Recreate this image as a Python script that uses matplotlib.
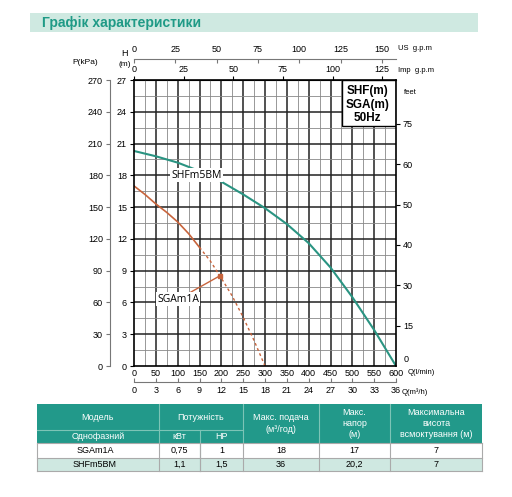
import numpy as np
import matplotlib
matplotlib.use('Agg')
import matplotlib.pyplot as plt
from matplotlib.patches import Rectangle

# curve data, Q in l/min, H in m
q_shf = [0, 50, 100, 150, 200, 250, 300, 350, 400, 450, 500, 550, 600]
h_shf = [20.3, 19.8, 19.2, 18.4, 17.4, 16.2, 14.9, 13.4, 11.6, 9.3, 6.5, 3.4, 0]
q_sga = [0, 25, 50, 75, 100, 125, 150, 175, 200, 225, 250, 275, 300]
h_sga = [17.0, 16.2, 15.3, 14.5, 13.6, 12.5, 11.2, 9.9, 8.3, 6.6, 4.6, 2.4, 0]
sga_solid_end = 150
sga_point = (196, 8.5)

# table data
col_heads = ['Модель', 'Потужність', 'Макс. подача\n(м³/год)', 'Макс.\nнапор\n(м)', 'Максимальна\nвисота\nвсмоктування (м)']
sub_heads = ['Однофазний', 'кВт', 'НР']
rows = [['SGAm1A', '0,75', '1', '18', '17', '7'],
        ['SHFm5BM', '1,1', '1,5', '36', '20,2', '7']]

feet_labels = ['15', '30', '40', '50', '60', '75']

teal = '#2a9482'
orange = '#c8643c'
head_col = '#22998a'
light = '#cfe8e1'

plt.rcParams['font.family'] = ['Liberation Sans', 'DejaVu Sans']
fig = plt.figure(figsize=(5.12, 4.97), dpi=100)

# overlay in pixel coords for title and table
ov = fig.add_axes([0, 0, 1, 1])
ov.set_xlim(0, 512)
ov.set_ylim(497, 0)
ov.axis('off')
ov.add_patch(Rectangle((30, 13), 448, 19, color='#cfe9e1', lw=0))
ov.text(42, 23, 'Графік характеристики', color='#1f9a86', fontsize=10, fontweight='bold', va='center')

ax = fig.add_axes([134/512, 1-366/497, 262/512, 286/497])
ax.set_xlim(0, 600)
ax.set_ylim(0, 27)
for x in np.arange(25, 600, 25):
    major = x % 50 == 0
    ax.axvline(x, color='#222' if major else '#888', lw=1.1 if major else 0.6, zorder=1)
for y in np.arange(1.5, 27, 1.5):
    major = abs(y % 3) < 1e-6
    ax.axhline(y, color='#222' if major else '#888', lw=1.1 if major else 0.6, zorder=1)

# SHF curve
ax.plot(q_shf, h_shf, color=teal, lw=1.5, zorder=3)
ax.text(143, 18.0, 'SHFm5BM', fontsize=7.5, ha='center', va='center', family=['Open Sans', 'DejaVu Sans'],
        bbox=dict(facecolor='white', edgecolor='none', pad=1.0), zorder=4)

# SGA curve, solid then dashed
qs = np.array(q_sga)
hs = np.array(h_sga)
m = qs <= sga_solid_end
ax.plot(qs[m], hs[m], color=orange, lw=1.2, zorder=3)
ax.plot(qs[qs >= sga_solid_end], hs[qs >= sga_solid_end], color=orange, lw=1.0, ls=(0, (2, 2)), zorder=3)
ax.plot(*sga_point, 's', color=orange, ms=3.5, zorder=5)
ax.annotate('SGAm1A', xy=sga_point, xytext=(101, 6.3), fontsize=7.5, ha='center', va='center',
            family=['Open Sans', 'DejaVu Sans'],
            bbox=dict(facecolor='white', edgecolor='none', pad=1.0),
            arrowprops=dict(arrowstyle='-', color=orange, lw=1.0, shrinkA=0, shrinkB=0), zorder=4)

# legend box
ax.add_patch(Rectangle((476, 22.7), 124, 4.3, facecolor='white', edgecolor='black', lw=1.0, zorder=6))
for txt, yy in zip(['SHF(m)', 'SGA(m)', '50Hz'], [26.0, 24.6, 23.4]):
    ax.text(535, yy, txt, fontsize=8.5, fontweight='bold', ha='center', va='center', zorder=7)

for s in ax.spines.values():
    s.set_linewidth(1.2)
    s.set_zorder(8)
ax.set_yticks(np.arange(0, 28, 3))
ax.set_xticks(np.arange(0, 601, 50))
ax.tick_params(axis='y', labelsize=6.5, length=3, direction='out', pad=2)
ax.tick_params(axis='x', labelsize=6.5, length=0, pad=2)

# pressure axis
pk = ax.secondary_yaxis(-0.092, functions=(lambda h: h * 10, lambda p: p / 10))
pk.set_yticks(np.arange(0, 271, 30))
pk.tick_params(labelsize=6.5, length=3, color='#777', pad=2)
pk.spines['left'].set_color('#777')

# feet axis
ft = ax.secondary_yaxis('right')
ft.set_yticks(np.arange(1, 7) * 22.86 / 6)
ft.set_yticklabels(feet_labels)
ft.tick_params(labelsize=6.5, length=3, pad=2)
ft.spines['right'].set_visible(False)

# top flow axes
imp = ax.secondary_xaxis('top', functions=(lambda q: q / 4.546, lambda g: g * 4.546))
imp.set_xticks(np.arange(0, 126, 25))
imp.tick_params(labelsize=6.5, length=3, pad=1)
us = ax.secondary_xaxis(1.072, functions=(lambda q: q / 3.785, lambda g: g * 3.785))
us.set_xticks(np.arange(0, 151, 25))
us.tick_params(labelsize=6.5, length=3, direction='in', pad=4, color='#777')
us.spines['top'].set_color('#777')

# bottom m3/h axis
m3 = ax.secondary_xaxis(-0.056, functions=(lambda q: q * 0.06, lambda v: v / 0.06))
m3.set_xticks(np.arange(0, 37, 3))
m3.tick_params(labelsize=6.5, length=3, direction='in', pad=3, color='#777')
m3.spines['bottom'].set_color('#777')

# axis names
ov.text(85, 63, 'P(kPa)', fontsize=6, ha='center', va='center')
ov.text(125, 53, 'H', fontsize=6.5, ha='center', va='center')
ov.text(125, 64, '(m)', fontsize=6, ha='center', va='center')
ov.text(398, 48, 'US  g.p.m', fontsize=5.5, va='center')
ov.text(398, 71, 'Imp  g.p.m', fontsize=5.5, va='center')
ov.text(404, 92, 'feet', fontsize=5.5, va='center')
ov.text(404, 360, '0', fontsize=6.5, va='center')
ov.text(408, 373, 'Q(l/min)', fontsize=5.5, va='center')
ov.text(402, 392, 'Q(m³/h)', fontsize=5.5, va='center')

# table
xs = [37, 159, 200, 243, 319, 390, 482]
top, mid, hb, r1, r2 = 404, 430, 443, 458, 471
ov.add_patch(Rectangle((xs[0], top), xs[-1]-xs[0], hb-top, color=head_col, lw=0))
ov.add_patch(Rectangle((xs[0], r1), xs[-1]-xs[0], r2-r1, color=light, lw=0))
lc = '#7cc4b6'
ov.plot([xs[0], xs[3]], [mid, mid], color=lc, lw=0.8)
for x in xs[1:-1]:
    if x == xs[2]:
        ov.plot([x, x], [mid, r2], color=lc, lw=0.8)
    else:
        ov.plot([x, x], [top, hb], color=lc, lw=0.8)
for x in xs:
    ov.plot([x, x], [hb, r2], color='#aaa', lw=0.8)
for y in [hb, r1, r2]:
    ov.plot([xs[0], xs[-1]], [y, y], color='#aaa', lw=0.8)
hx = [(xs[0]+xs[1])/2, (xs[1]+xs[3])/2, (xs[3]+xs[4])/2, (xs[4]+xs[5])/2, (xs[5]+xs[6])/2]
hy = [(top+mid)/2, (top+mid)/2, (top+hb)/2, (top+hb)/2, (top+hb)/2]
for t, x, y in zip(col_heads, hx, hy):
    ov.text(x, y, t, color='white', fontsize=6.5, ha='center', va='center', linespacing=1.3)
sx = [(xs[0]+xs[1])/2, (xs[1]+xs[2])/2, (xs[2]+xs[3])/2]
for t, x in zip(sub_heads, sx):
    ov.text(x, (mid+hb)/2, t, color='white', fontsize=6.5, ha='center', va='center')
cx = [95] + [(xs[i]+xs[i+1])/2 for i in range(1, 6)]
for row, y in zip(rows, [(hb+r1)/2, (r1+r2)/2]):
    for t, x in zip(row, cx):
        ov.text(x, y, t, fontsize=6.5, ha='center', va='center')

fig.savefig('out.png', dpi=100)
